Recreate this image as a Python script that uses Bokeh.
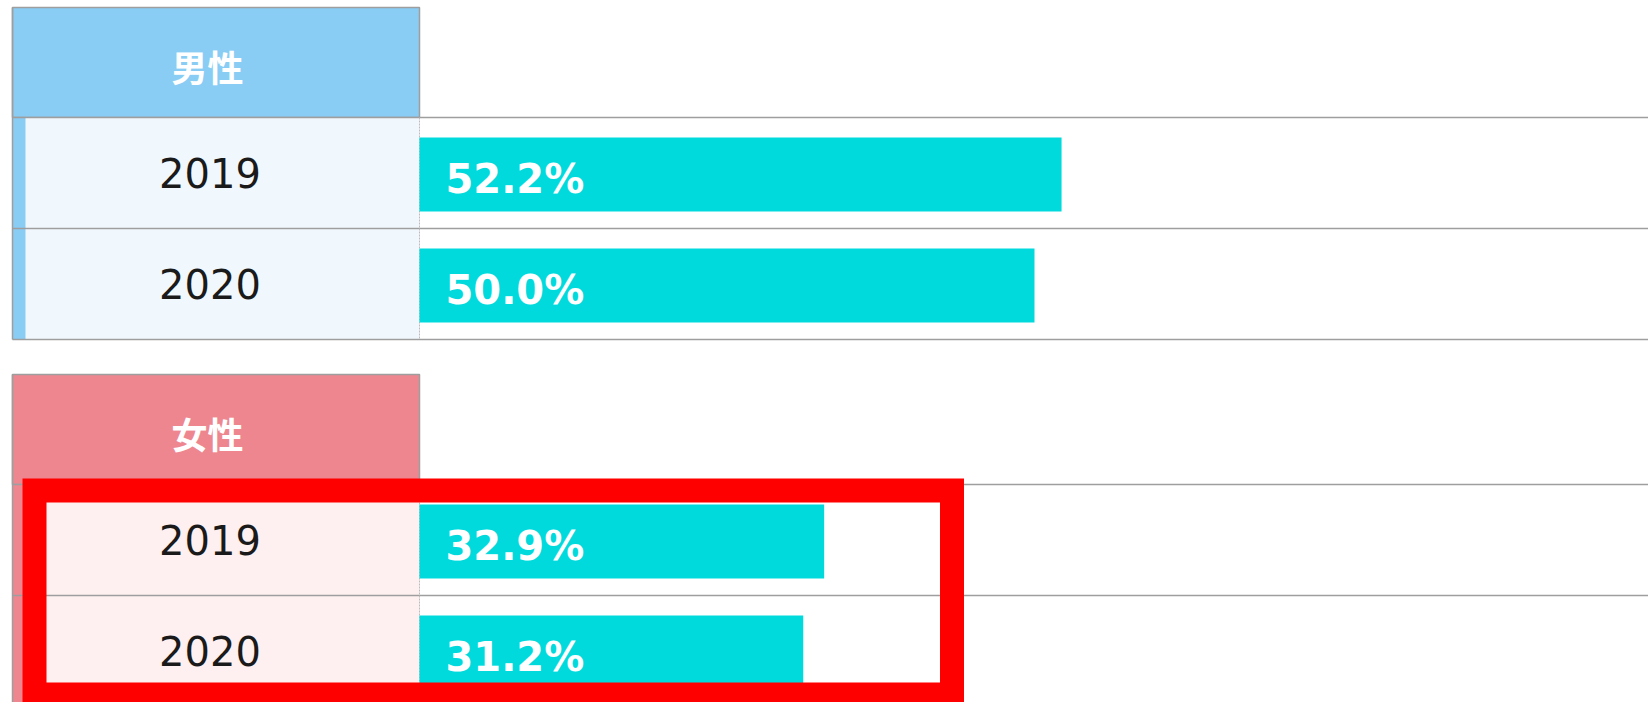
from bokeh.plotting import figure
from bokeh.models import Range1d
from bokeh.core.properties import value
from bokeh.embed import file_html
from bokeh.resources import INLINE

# ---- data ----
groups = ["男性", "女性"]
years = ["2019", "2020"]
male_values = [52.2, 50.0]
female_values = [32.9, 31.2]
group_values = [male_values, female_values]

# ---- style ----
header_colors = ["#89CDF5", "#EE8690"]
row_colors = ["#F0F8FE", "#FEF0F1"]
bar_color = "#00DADC"
line_color = "#9E9E9E"

W, H = 1648, 702
LEFT = 12
COL = 419
PX_PER_PCT = 12.3

p = figure(width=W, height=H, output_backend="svg", toolbar_location=None,
           x_range=Range1d(-COL / PX_PER_PCT, (W - COL) / PX_PER_PCT),
           y_range=Range1d(H, 0), x_axis_location=None, y_axis_location=None,
           min_border=0, outline_line_color=None)
p.extra_x_ranges = {"px": Range1d(0, W)}
p.xgrid.visible = False
p.ygrid.visible = False
p.background_fill_color = "white"
p.border_fill_color = "white"

HEAD_H = 110
ROW_H = 111
GROUP_TOP = [7, 374]

for g, name in enumerate(groups):
    top = GROUP_TOP[g]
    hb = top + HEAD_H
    row_tops = [hb + i * ROW_H for i in range(len(years))]
    bottom = hb + ROW_H * len(years)
    # header cell
    p.quad(left=LEFT, right=COL, top=top, bottom=hb, fill_color=header_colors[g],
           line_color=line_color, line_width=1.5, x_range_name="px")
    # row label cells
    p.quad(left=[LEFT] * len(years), right=[COL] * len(years),
           top=row_tops, bottom=[t + ROW_H for t in row_tops],
           fill_color=row_colors[g], line_color=None, x_range_name="px")
    # left strip
    p.quad(left=LEFT, right=25, top=hb, bottom=bottom, fill_color=header_colors[g],
           line_color=None, x_range_name="px")
    # left border
    p.segment(x0=LEFT, x1=LEFT, y0=top, y1=bottom, line_color=line_color,
              line_width=1.5, x_range_name="px")
    # row lines
    ys = [hb] + [t + ROW_H for t in row_tops]
    p.segment(x0=[LEFT] * len(ys), x1=[W] * len(ys), y0=ys, y1=ys,
              line_color=line_color, line_width=1.5, x_range_name="px")
    # dotted column divider
    p.segment(x0=COL, x1=COL, y0=hb, y1=bottom, line_color="#BBBBBB",
              line_width=1, line_dash="2 1", x_range_name="px")
    # header text
    p.text(x=[207], y=[top + 58], text=[name], text_color="white",
           text_font=value("Noto Sans CJK JP"), text_font_style="bold",
           text_font_size="36px", text_align="center", text_baseline="middle",
           x_range_name="px")
    # year labels
    p.text(x=[209.5] * len(years), y=[t + 55 for t in row_tops], text=years,
           text_color="#1A1A1A", text_font=value("DejaVu Sans"),
           text_font_size="40px", text_align="center", text_baseline="alphabetic",
           x_range_name="px")
    # bars
    vals = group_values[g]
    p.hbar(y=[t + 57 for t in row_tops], left=0, right=vals, height=74,
           fill_color=bar_color, line_color=None)
    p.text(x=[0] * len(vals), y=[t + 61 for t in row_tops],
           text=[f"{v:.1f}%" for v in vals], x_offset=26, text_color="white",
           text_font=value("DejaVu Sans"), text_font_style="bold",
           text_font_size="40px", text_align="left", text_baseline="alphabetic")

# red highlight frame around female rows
p.quad(left=34, right=951.5, top=490, bottom=694, fill_color=None,
       line_color="#FF0000", line_width=24, line_join="miter", x_range_name="px")

open("out.html", "w").write(file_html(p, INLINE))
